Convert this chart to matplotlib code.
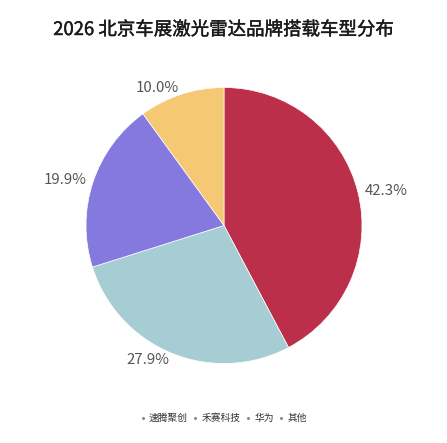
import numpy as np
import matplotlib
matplotlib.use("Agg")
import matplotlib.pyplot as plt
import matplotlib.patheffects as pe
from matplotlib.lines import Line2D

plt.rcParams['font.family'] = ['Noto Sans CJK SC', 'DejaVu Sans']

title = "2026 北京车展激光雷达品牌搭载车型分布"
brands = ["速腾聚创", "禾赛科技", "华为", "其他"]
shares = [42.3, 27.9, 19.9, 10.0]
colors = ["#BC2F4A", "#A6CDD3", "#8579E0", "#F5C874"]

W, H = 447, 443
fig = plt.figure(figsize=(W / 100, H / 100), dpi=100)
fig.patch.set_facecolor("white")

R = 138.0
cx, cy = 224.0, 225.5
half = 1.1 * R
ax = fig.add_axes([(cx - half) / W, (H - cy - half) / H, 2 * half / W, 2 * half / H])
ax.set_aspect("equal")
ax.axis("off")

wedges, _ = ax.pie(shares, colors=colors, startangle=90, counterclock=False,
                   radius=1.0, wedgeprops=dict(edgecolor="white", linewidth=0.5))
ax.set_xlim(-1.1, 1.1)
ax.set_ylim(-1.1, 1.1)

for w, v in zip(wedges, shares):
    ang = np.deg2rad((w.theta1 + w.theta2) / 2)
    c, s = np.cos(ang), np.sin(ang)
    d = 1.05
    ax.text(d * c, d * s, f"{v:.1f}%", ha="left" if c > 0 else "right",
            va="center", fontsize=10.8, color="#555555")

fig.text(0.5, 1 - 30 / H, title, ha="center", va="center", fontsize=13.3,
         color="#1a1a1a",
         path_effects=[pe.withStroke(linewidth=0.3, foreground="#1a1a1a")])

handles = [Line2D([], [], marker="o", linestyle="none", markersize=2.2,
                  markerfacecolor="#8a8a8a", markeredgecolor="none") for _ in brands]
fig.legend(handles, brands, loc="center", bbox_to_anchor=(0.5, 1 - 418 / H),
           ncol=4, frameon=False, fontsize=7, handletextpad=0.4,
           columnspacing=0.5, handlelength=0.5, labelcolor="#333333")

fig.savefig("out.png", dpi=100, facecolor="white")
